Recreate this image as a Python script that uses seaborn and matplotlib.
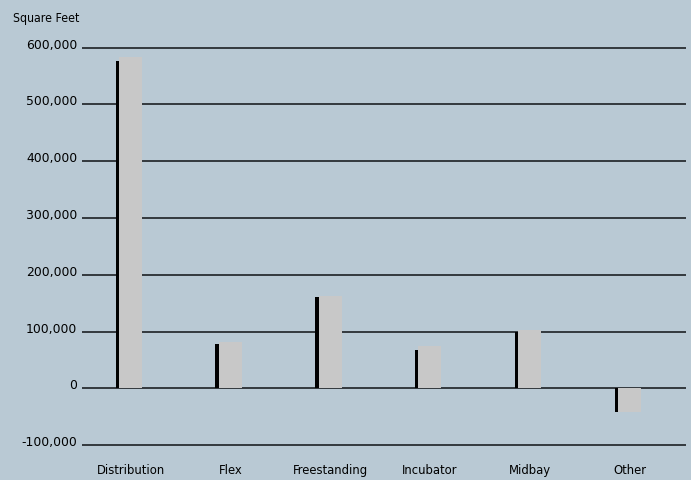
import matplotlib
matplotlib.use("Agg")
import matplotlib.pyplot as plt
from matplotlib.ticker import FuncFormatter
import numpy as np
import pandas as pd
import seaborn as sns

# Square feet by property type, two periods
categories = ["Distribution", "Flex", "Freestanding", "Incubator", "Midbay", "Other"]
period1 = [577000, 78000, 161000, 68000, 100000, -41000]
period2 = [584000, 82000, 163000, 74000, 102000, -41500]
y_ticks = [-100000, 0, 100000, 200000, 300000, 400000, 500000, 600000]

BG = "#b9c9d4"
sns.set_theme(style="white", rc={
    "axes.facecolor": BG,
    "figure.facecolor": BG,
    "text.color": "black",
    "xtick.color": "black",
    "ytick.color": "black",
})
plt.rcParams["font.family"] = ["DejaVu Sans"]

fig = plt.figure(figsize=(6.91, 4.81), dpi=100)
W, H = 691, 481
left, right, top, bottom = 82, 686, 45.8, 449.0
ax = fig.add_axes([left / W, 1 - bottom / H, (right - left) / W, (bottom - top) / H])

idx = np.arange(len(categories))
wide_w, thin_w = 0.23, 0.035
df1 = pd.DataFrame({"pos": idx - wide_w / 2 - thin_w / 2, "sqft": period1})
df2 = pd.DataFrame({"pos": idx.astype(float), "sqft": period2})

sns.barplot(data=df1, x="pos", y="sqft", native_scale=True, orient="x",
            width=thin_w, color="black", saturation=1, linewidth=0,
            errorbar=None, ax=ax, zorder=3)
sns.barplot(data=df2, x="pos", y="sqft", native_scale=True, orient="x",
            width=wide_w, color="#c8c8c8", saturation=1, linewidth=0,
            errorbar=None, ax=ax, zorder=3)

ax.set_xlim(-0.486, 5.566)
ax.set_ylim(-105000, 605000)
ax.set_xticks(idx)
ax.set_xticklabels(categories, fontsize=8.4, color="black")
ax.set_yticks(y_ticks)
ax.yaxis.set_major_formatter(FuncFormatter(lambda v, p: f"{v:,.0f}"))
for lbl in ax.get_yticklabels():
    lbl.set_fontsize(8.9)
    lbl.set_va("baseline")
    lbl.set_color("black")
ax.tick_params(axis="y", length=0, pad=3.3, labelcolor="black")
ax.tick_params(axis="x", length=0, pad=11.0, labelcolor="black")
ax.set_xlabel("")
ax.set_ylabel("")
for s in ax.spines.values():
    s.set_visible(False)
ax.set_axisbelow(True)
ax.yaxis.grid(True, color="#1c2024", linewidth=1.2)
ax.xaxis.grid(False)

fig.text(13 / W, 1 - 21.7 / H, "Square Feet", fontsize=8.8, color="black",
         family="DejaVu Sans", fontstretch="condensed", va="baseline", ha="left")

fig.savefig("out.png", dpi=100, facecolor=BG)
